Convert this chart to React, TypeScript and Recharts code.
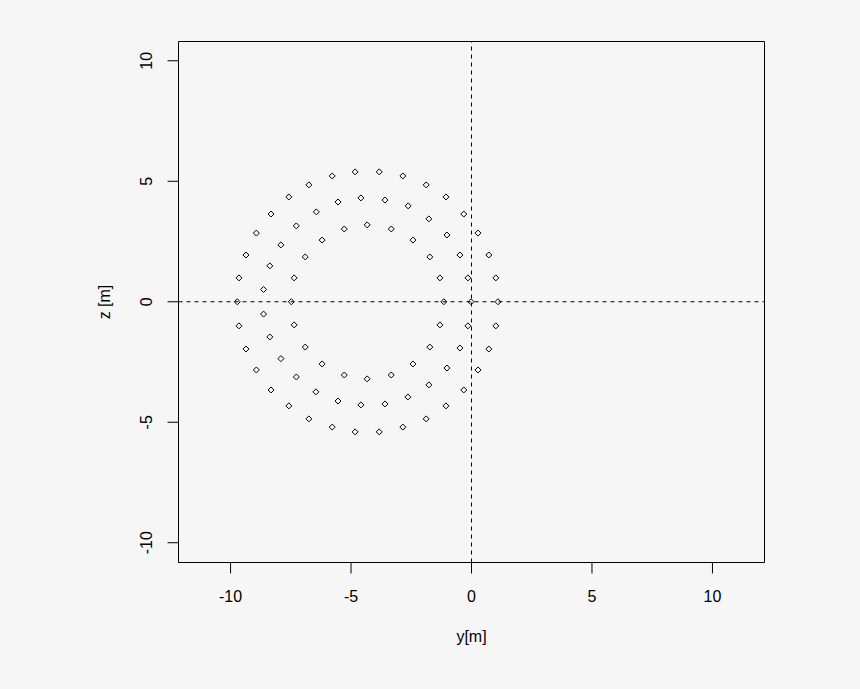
import React from "react"
import {
  ScatterChart,
  Scatter,
  XAxis,
  YAxis,
  ReferenceLine,
  ReferenceArea,
} from "recharts"

// outer ring (y, z in metres)
const outerY = [
  -9.72, -9.65, -9.36, -8.93, -8.32, -7.58, -6.75, -5.78, -4.83, -3.83, -2.85, -1.88, -1.06, -0.32, 0.27, 0.72, 1.01, 1.1,
  -9.65, -9.36, -8.93, -8.32, -7.58, -6.75, -5.78, -4.83, -3.83, -2.85, -1.88, -1.06, -0.32, 0.27, 0.72, 1.01,
]
const outerZ = [
  0, 0.99, 1.94, 2.85, 3.64, 4.35, 4.85, 5.22, 5.39, 5.39, 5.22, 4.85, 4.35, 3.64, 2.85, 1.94, 0.99, 0,
  -1.0, -1.96, -2.83, -3.66, -4.32, -4.86, -5.2, -5.4, -5.4, -5.2, -4.86, -4.32, -3.66, -2.83, -1.96, -1.0,
]

// middle ring
const middleY = [
  -8.63, -8.37, -7.91, -7.27, -6.44, -5.54, -4.59, -3.59, -2.63, -1.77, -1.02, -0.48, -0.15, -0.02,
  -8.63, -8.37, -7.91, -7.27, -6.46, -5.54, -4.59, -3.59, -2.64, -1.77, -1.02, -0.48, -0.15,
]
const middleZ = [
  0.51, 1.49, 2.36, 3.15, 3.73, 4.14, 4.31, 4.22, 3.98, 3.44, 2.77, 1.94, 0.99, 0,
  -0.51, -1.46, -2.36, -3.12, -3.74, -4.12, -4.28, -4.24, -3.95, -3.45, -2.75, -1.92, -1.0,
]

// inner ring
const innerY = [
  -7.48, -7.36, -6.9, -6.2, -5.28, -4.33, -3.33, -2.43, -1.73, -1.31, -1.15,
  -7.36, -6.9, -6.2, -5.28, -4.33, -3.33, -2.43, -1.73, -1.31,
]
const innerZ = [
  0, 0.99, 1.86, 2.56, 3.02, 3.19, 3.02, 2.56, 1.86, 0.99, 0,
  -0.96, -1.88, -2.58, -3.04, -3.2, -3.04, -2.58, -1.88, -0.96,
]

const TICKS = [-10, -5, 0, 5, 10]
const X_DOMAIN = [-12.16, 12.16]
const Z_DOMAIN = [-10.82, 10.8]

const FONT = "'Liberation Sans', Arial, sans-serif"
const BG = "#f6f6f6"

const points = [
  ...outerY.map((y, i) => ({ y, z: outerZ[i] })),
  ...middleY.map((y, i) => ({ y, z: middleZ[i] })),
  ...innerY.map((y, i) => ({ y, z: innerZ[i] })),
]

function Diamond({ cx, cy }: any) {
  const r = 3
  return (
    <polygon
      points={`${cx},${cy - r} ${cx + r},${cy} ${cx},${cy + r} ${cx - r},${cy}`}
      fill="none"
      stroke="#000"
      strokeWidth={1}
    />
  )
}

function XTick({ x, y, payload }: any) {
  return (
    <text x={x} y={y + 28.2} textAnchor="middle" fontSize={16} fontFamily={FONT} fill="#000">
      {payload.value}
    </text>
  )
}

function YTick({ x, y, payload }: any) {
  const tx = x - 15.2
  return (
    <text
      x={tx}
      y={y}
      transform={`rotate(-90 ${tx} ${y})`}
      textAnchor="middle"
      fontSize={16}
      fontFamily={FONT}
      fill="#000"
    >
      {payload.value}
    </text>
  )
}

function XTitle({ viewBox }: any) {
  return (
    <text
      x={viewBox.x + viewBox.width / 2}
      y={viewBox.y + 79.5}
      textAnchor="middle"
      fontSize={16}
      fontFamily={FONT}
      fill="#000"
    >
      y[m]
    </text>
  )
}

function YTitle({ viewBox }: any) {
  const tx = 110
  const ty = viewBox.y + viewBox.height / 2
  return (
    <text
      x={tx}
      y={ty}
      transform={`rotate(-90 ${tx} ${ty})`}
      textAnchor="middle"
      fontSize={16}
      fontFamily={FONT}
      fill="#000"
    >
      z [m]
    </text>
  )
}

export default function App() {
  return (
    <div style={{ position: "absolute", left: 0, top: 0, width: 860, height: 689, background: BG }}>
      <ScatterChart
        width={860}
        height={689}
        margin={{ top: 41.5, right: 95.5, bottom: 66.5, left: 108.5 }}
      >
        <XAxis
          type="number"
          dataKey="y"
          domain={X_DOMAIN}
          ticks={TICKS}
          allowDataOverflow
          axisLine={false}
          tickLine={{ stroke: "#000" }}
          tickSize={11}
          tickMargin={0}
          height={60}
          tick={<XTick />}
          label={<XTitle />}
        />
        <YAxis
          type="number"
          dataKey="z"
          domain={Z_DOMAIN}
          ticks={TICKS}
          allowDataOverflow
          axisLine={false}
          tickLine={{ stroke: "#000" }}
          tickSize={11}
          tickMargin={0}
          width={70}
          tick={<YTick />}
          label={<YTitle />}
        />
        <ReferenceLine x={0} stroke="#000" strokeDasharray="4 4" />
        <ReferenceLine y={0} stroke="#000" strokeDasharray="4 4" />
        <ReferenceArea
          x1={X_DOMAIN[0]}
          x2={X_DOMAIN[1]}
          y1={Z_DOMAIN[0]}
          y2={Z_DOMAIN[1]}
          fill="none"
          stroke="#000"
          strokeWidth={1}
          ifOverflow="visible"
        />
        <Scatter data={points} shape={<Diamond />} isAnimationActive={false} />
      </ScatterChart>
    </div>
  )
}
